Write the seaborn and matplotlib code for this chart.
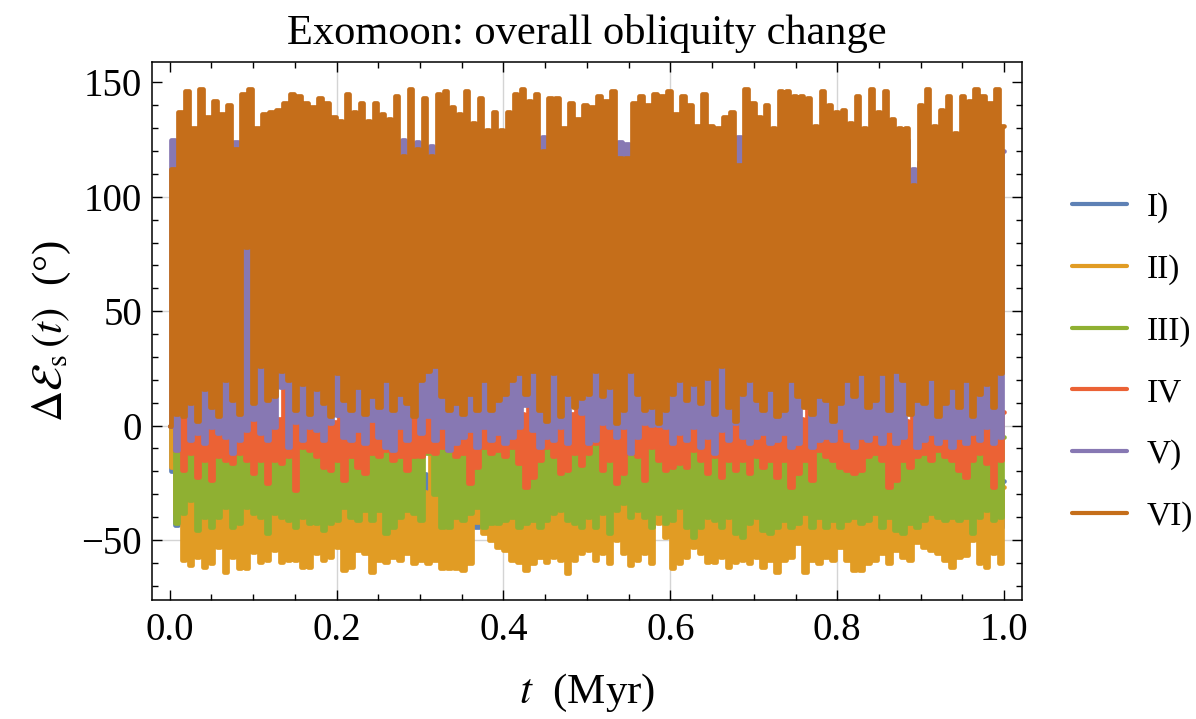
import numpy as np
import pandas as pd
import matplotlib
matplotlib.use("Agg")
import matplotlib.pyplot as plt
import seaborn as sns
from matplotlib.ticker import MultipleLocator, FormatStrFormatter

# ---------------- data ----------------
series_names = ["I)", "II)", "III)", "IV", "V)", "VI)"]
series_colors = ["#5E81B5", "#E19C24", "#8FB032", "#EB6235", "#8778B3", "#C56E1A"]

# each series: successive troughs (lo) and crests (hi) of the fast oscillation
vi_hi = [112, 137, 146, 130, 147, 135, 142, 136, 140, 121,
         145, 147, 130, 136, 137, 138, 141, 145, 144, 141,
         139, 143, 141, 135, 133, 145, 137, 141, 133, 141,
         136, 134, 144, 118, 147, 121, 143, 118, 145, 146,
         139, 136, 146, 132, 143, 129, 137, 129, 137, 145,
         147, 142, 145, 120, 143, 143, 130, 141, 134, 140,
         139, 144, 142, 146, 117, 117, 141, 144, 140, 145,
         144, 146, 136, 144, 140, 131, 145, 131, 130, 135,
         137, 114, 147, 141, 135, 140, 130, 146, 146, 144,
         144, 143, 131, 146, 140, 137, 138, 132, 144, 130,
         147, 137, 146, 134, 130, 130, 105, 140, 147, 131,
         138, 144, 128, 144, 142, 147, 144, 141, 147, 131]
vi_lo = [0, 5, 4, 10, 2, 16, 8, 4, 20, 11,
         5, 78, 10, 26, 11, 13, 24, 20, 7, 18,
         5, 16, 10, 4, 23, 11, 7, 17, 5, 13,
         8, 20, 7, 14, 10, 4, 20, 24, 26, 13,
         7, 10, 5, 14, 7, 20, 7, 11, 14, 20,
         23, 14, 24, 7, 2, 23, 4, 14, 8, 12,
         14, 24, 13, 17, 1, 7, 24, 14, 7, 8,
         1, 7, 14, 20, 11, 18, 10, 21, 5, 26,
         8, 2, 14, 20, 11, 7, 16, 4, 7, 20,
         13, 8, 5, 13, 11, 2, 10, 20, 13, 23,
         8, 11, 23, 7, 24, 20, 5, 11, 10, 21,
         4, 10, 17, 8, 20, 4, 14, 18, 8, 23]

v_hi = [125, 118, 112, 120, 108, 121, 116, 110, 119, 124,
        115, 100, 125, 117, 109, 121, 113, 119, 106, 118,
        122, 111, 117, 108, 120, 114, 119, 105, 116, 121,
        112, 118, 109, 125, 115, 124, 110, 122, 117, 113,
        120, 107, 116, 121, 111, 118, 114, 123, 108, 117,
        119, 112, 121, 126, 115, 110, 122, 116, 109, 118,
        113, 120, 117, 111, 124, 123, 114, 119, 108, 121,
        116, 110, 122, 115, 118, 107, 120, 113, 119, 111,
        117, 126, 121, 109, 116, 122, 112, 118, 115, 120,
        108, 119, 114, 121, 117, 110, 123, 116, 112, 120,
        118, 113, 121, 109, 117, 125, 112, 115, 119, 111,
        124, 116, 121, 113, 118, 110, 122, 117, 114, 120]
v_lo = [0, -10.6, 5, -6.3, -3.3, -7.7, -0.4, -3.3, -4.8, -12.1,
        -6.3, -1.9, 3, -3.3, -6.3, -0.4, 17, -9.2, 1.5, -6.3,
        -0.4, -1.9, -6.3, 1, 4.5, -4.8, -6.3, -1.9, -7.7, 2.5,
        -4.8, -9.2, -10.6, -0.4, -6.3, 6.9, -3.3, 4, -6.3, -0.4,
        -10.6, -7.7, -4.8, -1.9, -9.2, -0.4, -6.3, -3.3, -7.7, -4.8,
        -0.4, 9, -1.9, -9.2, -4.8, -6.3, -0.4, -7.7, 12.7, 5.4,
        -7.7, -6.3, 1, -0.4, -4.8, -0.4, -12.1, -4.8, 1, 0.3,
        0.3, -0.4, -7.7, -3.3, -6.3, -0.4, -9.2, -4.8, -12.1, -1.9,
        -6.3, 1, -4.8, -7.7, -4.8, -3.3, -7.7, -6.3, -3.3, -9.2,
        -7.7, 12.7, -9.2, -6.3, -4.8, -6.3, -0.4, -6.3, -9.2, -4.8,
        -6.3, -3.3, -7.7, -1.9, -7.7, -4.8, 6.9, -9.2, -6.3, -3.3,
        -7.7, -4.8, -9.2, -4.8, -7.7, -3.3, -6.3, -0.4, -7.7, -4.8]

iv_hi = [0, 3, 5.5, 2, 4, 6, 1, 3, 5, 2,
         4, 2, 3.5, 6, 1, 3, 17.5, 4, 2, 5,
         3, 6, 2, 1.5, 5, 4, 2, 6, 3, 3,
         5, 2, 4, 1, 6, 7.5, 3, 4.5, 2, 5,
         3, 6, 2, 4, 1, 5, 3, 6, 2, 4,
         5, 9.5, 3, 2, 6, 4, 1, 5, 13, 6,
         3, 5, 2, 4, 6, 3, 1, 5, 2, 4,
         3, 6, 2, 4, 5, 1, 3, 6, 2, 4,
         5, 2, 4, 6, 1, 3, 5, 2, 4, 6,
         3, 13, 2, 5, 4, 1, 6, 3, 5, 2,
         4, 6, 1, 3, 5, 2, 7.5, 4, 6, 3,
         2, 5, 4, 1, 6, 3, 5, 2, 4, 6]
iv_lo = [0, -10.6, -19.4, -12.1, -22.3, -15, -23.7, -13.5, -15, -16.5,
         -12.1, -15, -20.8, -15, -25.2, -15, -16.5, -13.5, -28.1, -9.2,
         -10.6, -13.5, -17.9, -19.4, -15, -23.7, -13.5, -17.9, -20.8, -12.1,
         -13.5, -10.6, -15, -13.5, -19.4, -13.5, -13.5, -11, -12.1, -9.2,
         -10.6, -13.5, -12.1, -25.2, -17.9, -9.2, -12.1, -10.6, -13.5, -9.2,
         -16.5, -26.7, -22.3, -15, -9.2, -13.5, -20.8, -19.4, -12.1, -17,
         -12.1, -7.7, -19.4, -15, -25.2, -20.8, -12.1, -13.5, -23.7, -9.2,
         -15, -19.4, -17.9, -16.5, -17.9, -10.6, -15, -20.8, -13.5, -22.3,
         -15, -19.4, -15, -20.8, -13.5, -17.9, -15, -22.3, -15, -26.7,
         -20.8, -15, -23.7, -10.6, -13.5, -15, -17.9, -19.4, -20.8, -19.4,
         -13.5, -12.1, -15, -26.7, -23.7, -15, -17.9, -13.5, -12.1, -15,
         -10.6, -13.5, -15, -19.4, -22.3, -15, -12.1, -16.5, -26.7, -15]

iii_hi = [0, -3, -5, -2, -6, -4, -7, -3, -5, -2,
          -4, -6, -3, -5, -2, -7, -4, -3, -6, -5,
          -2, -4, -6, -3, -5, -7, -2, -4, -3, -6,
          -5, -2, -4, -6, -3, -5, -7, -4, -2, -6,
          -3, -5, -2, -4, -6, -3, -7, -5, -2, -4,
          -6, -3, -5, -2, -4, -7, -3, -6, -5, -2,
          -4, -6, -3, -5, -2, -7, -4, -3, -6, -5,
          -2, -4, -6, -3, -5, -7, -2, -4, -3, -6,
          -5, -2, -4, -6, -3, -5, -7, -4, -2, -6,
          -3, -5, -2, -4, -6, -3, -7, -5, -2, -4,
          -6, -3, -5, -2, -4, -7, -3, -6, -5, -2,
          -4, -6, -3, -5, -2, -7, -4, -3, -6, -5]
iii_lo = [0, -42.7, -38.3, -32.5, -45.6, -39.8, -44.2, -39.8, -35.4, -44.2,
          -42.7, -35.4, -38.3, -39.8, -47.1, -38.3, -39.8, -41.2, -44.2, -39.8,
          -42.7, -42.7, -45.6, -42.7, -41.2, -35.4, -39.8, -41.2, -36.9, -41.2,
          -36.9, -47.1, -44.2, -39.8, -36.9, -38.3, -41.2, -12, -30, -44.2,
          -44.2, -39.8, -41.2, -38.3, -35.4, -44.2, -42.7, -42.7, -41.2, -39.8,
          -44.2, -42.7, -41.2, -44.2, -41.2, -38.3, -36.9, -41.2, -42.7, -44.2,
          -39.8, -44.2, -38.3, -47.1, -36.9, -34, -39.8, -36.9, -39.8, -44.2,
          -38.3, -42.7, -41.2, -35.4, -44.2, -48.5, -44.2, -39.8, -41.2, -44.2,
          -39.8, -47.1, -48.5, -42.7, -39.8, -45.6, -47.1, -44.2, -41.2, -44.2,
          -42.7, -38.3, -44.2, -39.8, -44.2, -41.2, -44.2, -41.2, -39.8, -42.7,
          -41.2, -38.3, -44.2, -39.8, -45.6, -47.1, -42.7, -44.2, -41.2, -38.3,
          -39.8, -41.2, -39.8, -41.2, -39.8, -47.1, -39.8, -36.9, -41.2, -39.8]

ii_hi = [-18, -30, -27, -29, -31, -26, -30, -28, -25, -31,
         -27, -29, -32, -26, -30, -28, -31, -27, -29, -26,
         -30, -28, -31, -27, -29, -25, -30, -28, -32, -27,
         -29, -26, -31, -28, -30, -27, -29, -11, -22, -28,
         -30, -27, -29, -31, -26, -28, -30, -27, -29, -31,
         -26, -28, -30, -27, -29, -31, -26, -28, -30, -27,
         -29, -31, -26, -28, -30, -27, -29, -25, -31, -28,
         -30, -27, -29, -26, -31, -28, -30, -27, -29, -26,
         -31, -28, -30, -27, -29, -26, -31, -28, -30, -27,
         -29, -26, -31, -28, -30, -27, -29, -31, -26, -28,
         -30, -27, -29, -26, -31, -28, -30, -27, -29, -26,
         -31, -28, -30, -27, -29, -26, -31, -28, -30, -27]
ii_lo = [0, -38, -58.7, -60.9, -57.3, -61.6, -60.2, -52.9, -63.8, -57.3,
         -62.4, -62.4, -55.1, -59.5, -58.7, -54.4, -59.5, -58.7, -58.7, -61.6,
         -61.6, -55.8, -58.7, -57.3, -52.9, -63.1, -61.6, -54.4, -55.8, -63.8,
         -58.7, -59.5, -57.3, -58.7, -55.8, -60.2, -58.7, -60.2, -58.7, -62.4,
         -62.4, -62.4, -63.1, -60.2, -42, -47.1, -50, -52.9, -54.4, -58.7,
         -59.5, -63.1, -60.2, -57.3, -59.5, -57.3, -58.7, -64.6, -58.7, -55.8,
         -54.4, -58.7, -55.8, -60.2, -50, -55.8, -60.9, -58.7, -55.8, -60.2,
         -42.7, -48.5, -62.4, -60.2, -57.3, -52.9, -55.8, -59.5, -59.5, -57.3,
         -61.6, -59.5, -58.7, -60.2, -57.3, -61.6, -58.7, -63.8, -58.7, -57.3,
         -51.4, -63.8, -58.7, -60.2, -57.3, -58.7, -52.9, -58.7, -63.1, -63.1,
         -60.2, -58.7, -55.8, -60.2, -54.4, -57.3, -58.7, -50.7, -52.9, -54.4,
         -55.8, -58.7, -61.6, -57.3, -56.5, -50, -60.2, -61.6, -55.8, -60.2]

i_hi = [-20, -22, -28, -18, -25, -30, -21, -27, -24, -19,
        -26, -23, -29, -20, -25, -28, -22, -19, -27, -24,
        -21, -29, -25, -18, -26, -23, -28, -20, -24, -27,
        -22, -25, -19, -28, -23, -26, -21, -29, -24, -20,
        -27, -22, -25, -18, -28, -24, -21, -26, -23, -29,
        -20, -25, -27, -22, -19, -26, -24, -28, -21, -23,
        -27, -20, -25, -29, -22, -24, -18, -26, -23, -28,
        -21, -25, -27, -20, -24, -29, -22, -26, -19, -23,
        -28, -21, -25, -24, -27, -20, -26, -22, -29, -23,
        -19, -25, -28, -21, -24, -27, -20, -26, -23, -22,
        -28, -24, -21, -27, -25, -19, -26, -23, -29, -22,
        -20, -27, -24, -25, -21, -28, -23, -26, -22, -24]
i_lo = [0, -43.5, -42.7, -44.2, -43.0, -44.6, -42.5, -43.8, -44.0, -43.2,
        -44.3, -42.9, -43.6, -44.8, -43.1, -42.6, -44.1, -43.4, -44.5, -42.8,
        -43.9, -44.4, -43.2, -42.7, -44.0, -43.5, -44.7, -42.9, -43.3, -44.2,
        -43.0, -44.6, -42.8, -43.7, -44.3, -43.1, -42.6, -44.0, -43.6, -44.8,
        -42.9, -43.4, -44.1, -43.8, -44.2, -43.2, -42.7, -44.5, -43.0, -43.9,
        -44.4, -42.8, -43.6, -44.0, -43.3, -42.9, -44.6, -43.1, -43.8, -44.2,
        -43.0, -44.5, -42.7, -43.9, -44.1, -43.4, -42.8, -44.3, -43.6, -43.2,
        -42.0, -42.9, -43.7, -44.6, -43.1, -42.6, -44.2, -43.5, -44.8, -43.0,
        -43.3, -44.4, -42.9, -43.8, -44.0, -43.2, -42.7, -44.5, -43.6, -43.1,
        -44.2, -42.8, -43.9, -44.3, -43.0, -42.6, -44.1, -43.4, -44.7, -42.9,
        -43.5, -44.0, -43.2, -42.8, -44.4, -43.7, -43.1, -44.6, -42.9, -43.8,
        -44.1, -43.3, -42.7, -44.2, -43.6, -43.0, -44.5, -42.8, -43.9, -44.3]

grid_x = [0.2, 0.4, 0.6, 0.8]
grid_y = [-50, 0, 50, 100]

envelopes = {
    "I)": (i_lo, i_hi), "II)": (ii_lo, ii_hi), "III)": (iii_lo, iii_hi),
    "IV": (iv_lo, iv_hi), "V)": (v_lo, v_hi), "VI)": (vi_lo, vi_hi),
}

frames = []
for name in series_names:
    lo, hi = envelopes[name]
    vals = np.column_stack((np.asarray(lo, float), np.asarray(hi, float))).ravel()
    t = np.linspace(0.0, 1.0, len(vals))
    frames.append(pd.DataFrame({"t": t, "value": vals, "series": name}))
df = pd.concat(frames, ignore_index=True)

# ---------------- styling ----------------
sns.set_theme(style="ticks")
plt.rcParams["font.family"] = ["Liberation Serif", "DejaVu Serif"]
plt.rcParams["mathtext.fontset"] = "stix"
plt.rcParams["axes.unicode_minus"] = True
plt.rcParams["text.color"] = "black"
plt.rcParams["axes.labelcolor"] = "black"
plt.rcParams["xtick.color"] = "black"
plt.rcParams["ytick.color"] = "black"
plt.rcParams["axes.edgecolor"] = "black"

fig = plt.figure(figsize=(11.96, 7.19), dpi=100)
ax = fig.add_axes([151.7 / 1196, 1 - 600 / 719, (1021.7 - 151.7) / 1196, (600 - 61.7) / 719])

for gx in grid_x:
    ax.axvline(gx, color="#d4d4d4", lw=1.0, zorder=0)
for gy in grid_y:
    ax.axhline(gy, color="#d4d4d4", lw=1.0, zorder=0)

sns.lineplot(data=df, x="t", y="value", hue="series", hue_order=series_names,
             palette=series_colors, estimator=None, sort=False,
             lw=3.4, drawstyle="steps-mid", ax=ax)

ax.set_xlim(-0.0215, 1.021)
ax.set_ylim(-76.2, 159.0)

ax.xaxis.set_major_locator(MultipleLocator(0.2))
ax.xaxis.set_minor_locator(MultipleLocator(0.05))
ax.xaxis.set_major_formatter(FormatStrFormatter("%.1f"))
ax.yaxis.set_major_locator(MultipleLocator(50))
ax.yaxis.set_minor_locator(MultipleLocator(10))

ax.tick_params(which="both", direction="in", top=True, right=True, width=1.0,
               color="black", labelcolor="black")
ax.tick_params(which="major", length=7.5, labelsize=28)
ax.tick_params(axis="x", which="major", pad=9)
ax.tick_params(axis="y", which="major", pad=7)
ax.tick_params(which="minor", length=4.5)
for sp in ax.spines.values():
    sp.set_linewidth(1.1)
    sp.set_color("black")

ax.set_xlabel(r"$t$  (Myr)", fontsize=31, labelpad=16, color="black")
ax.set_ylabel(r"$\Delta\mathcal{E}_{\mathrm{s}}\,(t)$  (°)", fontsize=31, labelpad=6, color="black")
ax.set_title("Exomoon: overall obliquity change", fontsize=30.5, pad=13, color="black")

handles, labels = ax.get_legend_handles_labels()
leg = ax.legend(handles, labels, loc="center left",
                bbox_to_anchor=(1072 / 1196, 1 - 362 / 719), bbox_transform=fig.transFigure,
                frameon=False, fontsize=24, handlelength=1.65, handletextpad=0.6,
                labelspacing=0.93, borderpad=0, borderaxespad=0, title=None,
                labelcolor="black")
for h in leg.legend_handles:
    h.set_linewidth(3.0)
    h.set_drawstyle("default")

fig.savefig("out.png", dpi=100)
